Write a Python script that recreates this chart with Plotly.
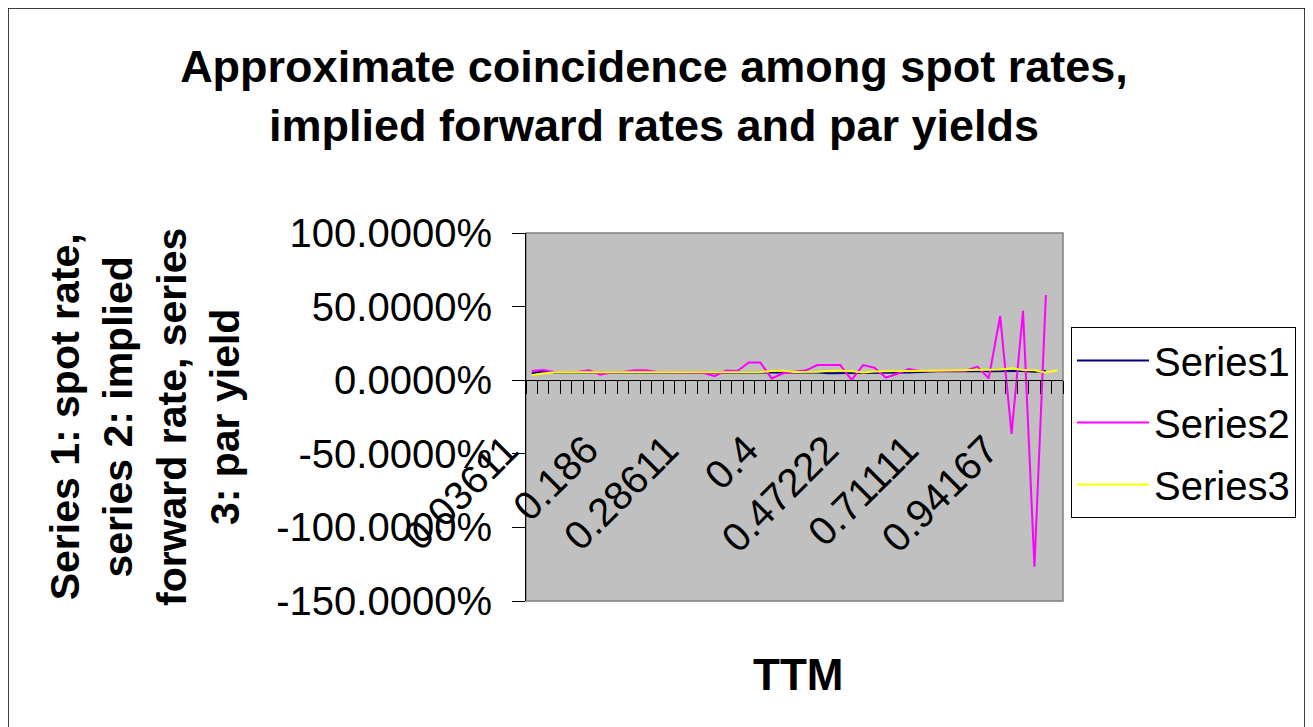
import plotly.graph_objects as go

# ---------------- data ----------------
categories = list(range(1, 48))  # category index along TTM axis

series1 = [4.5, 6.0, 5.3, 5.3, 5.3, 5.3, 5.3, 5.3, 5.3, 5.3,
           5.3, 5.3, 5.3, 5.3, 5.3, 5.3, 5.3, 5.3, 5.3, 5.3,
           5.3, 5.3, 5.4, 5.4, 5.3, 5.2, 4.8, 4.8, 5.2, 5.3,
           5.3, 4.8, 4.8, 5.3, 5.6, 6.0, 6.2, 6.0, 5.8, 6.0,
           6.1, 6.3, 6.6, 6.3, 5.8, 6.3]

series2 = [6.2, 7.0, 5.5, 5.4, 5.5, 6.8, 3.8, 5.4, 5.5, 6.8,
           6.7, 5.6, 5.4, 5.4, 5.4, 5.1, 2.8, 6.6, 6.2, 12.0,
           12.0, 1.2, 4.7, 5.8, 6.7, 10.3, 10.3, 10.3, 0.2, 10.3,
           8.5, 1.7, 4.4, 7.6, 6.2, 6.4, 6.4, 6.4, 6.4, 9.2,
           1.3, 43.6, -36.5, 47.2, -126.7, 57.9]

series3 = [3.5, 4.5, 5.4, 5.4, 5.4, 5.4, 5.4, 5.4, 5.4, 5.4,
           5.4, 5.4, 5.4, 5.4, 5.4, 5.4, 5.4, 5.4, 5.4, 5.4,
           5.5, 6.2, 6.5, 5.5, 5.5, 5.8, 6.3, 6.6, 6.0, 5.2,
           5.9, 6.3, 6.2, 6.2, 6.3, 6.5, 6.6, 6.6, 6.6, 6.6,
           6.8, 7.2, 8.1, 7.0, 6.7, 5.2, 6.8]

label_cats = [1, 8, 15, 22, 29, 36, 43]
label_text = ["0.03611", "0.186", "0.28611", "0.4", "0.47222", "0.71111", "0.94167"]

y_ticks = [100, 50, 0, -50, -100, -150]
y_ticktext = [f"{v:.4f}%" for v in y_ticks]

# ---------------- layout helpers ----------------
W, H = 1313, 727
OFF = 8  # page offset of the figure inside the window
SL, SR, ST, SB = 526, 1063, 233, 601  # plot-area edges on screen
L, R, T, B = SL - OFF, SR - OFF, ST - OFF, SB - OFF
FONT = "Liberation Sans, Arial, sans-serif"


def px(sx):
    return (sx - SL) / (SR - SL)


def py(sy):
    return (SB - sy) / (SB - ST)


n = len(categories)
boundaries = [k + 0.5 for k in range(0, n + 1)]
zero_pos = (0 - (-150)) / (100 - (-150))

fig = go.Figure()
fig.add_trace(go.Scatter(x=categories[:len(series1)], y=series1, mode="lines",
                         name="Series1", legendgroup="s1",
                         line=dict(color="#000080", width=2)))
fig.add_trace(go.Scatter(x=categories[:len(series2)], y=series2, mode="lines",
                         name="Series2", legendgroup="s2",
                         line=dict(color="#FF00FF", width=2)))
fig.add_trace(go.Scatter(x=categories[:len(series3)], y=series3, mode="lines",
                         name="Series3", legendgroup="s3",
                         line=dict(color="#FFFF00", width=2)))
# carrier trace for the label axis
fig.add_trace(go.Scatter(x=label_cats, y=[None] * len(label_cats), xaxis="x2",
                         showlegend=False, hoverinfo="skip", mode="lines"))

fig.update_layout(
    width=W, height=H,
    margin=dict(l=L, r=W - R, t=T, b=H - B, autoexpand=False),
    paper_bgcolor="white",
    plot_bgcolor="#C0C0C0",
    font=dict(family=FONT, color="black"),
    title=dict(
        text="<b>Approximate coincidence among spot rates,<br>implied forward rates and par yields</b>",
        font=dict(size=45, family=FONT, color="black"),
        xref="paper", x=px(654), xanchor="center",
        yref="container", y=1 - (82 - OFF) / H, yanchor="middle",
    ),
    xaxis=dict(
        range=[0.5, n + 0.5], anchor="free", position=zero_pos,
        showline=True, linecolor="black", linewidth=1,
        ticks="outside", ticklen=13, tickwidth=1, tickcolor="black",
        tickmode="array", tickvals=boundaries, showticklabels=False,
        showgrid=False, zeroline=False,
    ),
    xaxis2=dict(
        range=[0.5, n + 0.5], overlaying="x", anchor="free", position=zero_pos,
        showline=False, ticks="", tickmode="array",
        tickvals=label_cats, ticktext=label_text, tickangle=-45,
        tickfont=dict(size=40, family=FONT, color="black"),
        ticklabelstandoff=37, ticklabelshift=-25,
        showgrid=False, zeroline=False,
    ),
    yaxis=dict(
        range=[-150, 100], domain=[0, 1],
        showline=True, linecolor="black", linewidth=1,
        ticks="outside", ticklen=13, tickwidth=1, tickcolor="black",
        tickmode="array", tickvals=y_ticks, ticktext=y_ticktext,
        tickfont=dict(size=40, family=FONT, color="black"),
        ticklabelstandoff=12,
        showgrid=False, zeroline=False,
    ),
    legend=dict(
        x=px(1071), y=py(327), xanchor="left", yanchor="top",
        xref="paper", yref="paper",
        font=dict(size=40, family=FONT, color="black"),
        bgcolor="white", bordercolor="black", borderwidth=1,
        tracegroupgap=7, traceorder="grouped", itemwidth=72,
    ),
    showlegend=True,
    shapes=[
        dict(type="rect", xref="paper", yref="paper", x0=0, x1=1, y0=0, y1=1,
             line=dict(color="#808080", width=1.5), layer="below"),
        dict(type="rect", xref="paper", yref="paper",
             x0=px(8), x1=px(1305), y0=py(745), y1=py(8),
             line=dict(color="black", width=1.5), layer="below"),
    ],
    annotations=[
        dict(text="<b>Series 1: spot rate,<br>series 2: implied<br>forward rate, series<br>3: par yield</b>",
             xref="paper", yref="paper", x=px(145), y=py(417),
             xanchor="center", yanchor="middle", textangle=-90, showarrow=False,
             font=dict(size=41, family=FONT, color="black")),
        dict(text="<b>TTM</b>", xref="paper", yref="paper", x=px(798), y=py(674),
             xanchor="center", yanchor="middle", showarrow=False,
             font=dict(size=44, family=FONT, color="black")),
    ],
)

fig.write_html("out.html")
